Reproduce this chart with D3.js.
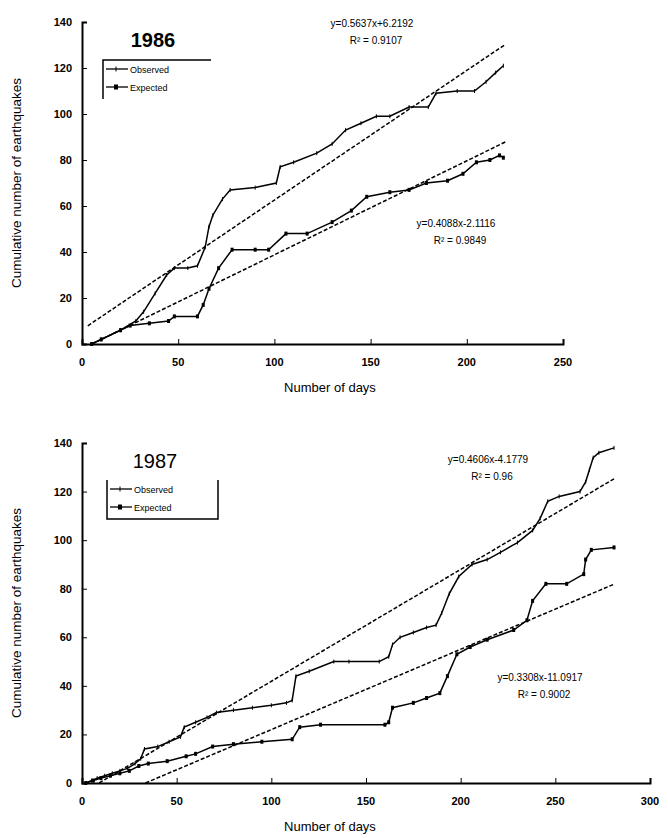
<!DOCTYPE html>
<html>
<head>
<meta charset="utf-8">
<script src="https://cdn.jsdelivr.net/npm/d3@7"></script>
<style>
body { margin: 0; background: #fff; }
text { font-family: Arial, "Liberation Sans", sans-serif; fill: #000; }
</style>
</head>
<body>
<div id="chart"></div>
<script>
// 1986 data (day, cumulative count)
var obs86Days = [5, 10, 20, 28, 32, 38, 44, 48, 55, 60, 64, 66, 68, 73, 77, 90, 101, 103, 110, 122, 130, 137, 145, 153, 160, 170, 180, 184, 195, 204, 210, 215, 219];
var obs86Vals = [0, 2, 6, 10, 14, 22, 30, 33, 33, 34, 42, 51, 56, 63, 67, 68, 70, 77, 79, 83, 87, 93, 96, 99, 99, 103, 103, 109, 110, 110, 114, 118, 121];
var exp86Days = [5, 10, 20, 25, 35, 45, 48, 60, 63, 66, 71, 78, 90, 97, 106, 117, 130, 140, 148, 160, 170, 179, 190, 198, 205, 212, 217, 219];
var exp86Vals = [0, 2, 6, 8, 9, 10, 12, 12, 17, 24, 33, 41, 41, 41, 48, 48, 53, 58, 64, 66, 67, 70, 71, 74, 79, 80, 82, 81];

// 1987 data
var obs87Days = [2, 5, 8, 12, 16, 20, 24, 28, 31, 33, 40, 46, 52, 54, 60, 66, 71, 80, 90, 100, 108, 111, 113, 120, 133, 141, 157, 162, 164, 168, 175, 182, 187, 190, 194, 199, 206, 214, 221, 230, 238, 242, 246, 252, 263, 266, 268, 270, 273, 281];
var obs87Vals = [0, 1, 2, 3, 4, 5, 6, 8, 10, 14, 15, 17, 19, 23, 25, 27, 29, 30, 31, 32, 33, 34, 44, 46, 50, 50, 50, 52, 57, 60, 62, 64, 65, 70, 78, 85, 90, 92, 95, 99, 104, 109, 116, 118, 120, 124, 129, 134, 136, 138];
var exp87Days = [2, 6, 10, 15, 20, 25, 30, 35, 45, 55, 60, 69, 80, 95, 111, 115, 126, 160, 162, 164, 175, 182, 189, 193, 198, 205, 214, 228, 235, 238, 245, 256, 265, 266, 269, 281];
var exp87Vals = [0, 1, 2, 3, 4, 5, 7, 8, 9, 11, 12, 15, 16, 17, 18, 23, 24, 24, 25, 31, 33, 35, 37, 44, 53, 56, 59, 63, 67, 75, 82, 82, 86, 92, 96, 97];

// regression lines
var slopes86 = [0.5637, 0.4088], intercepts86 = [6.2192, -2.1116];
var slopes87 = [0.4606, 0.3308], intercepts87 = [-4.1779, -11.0917];
var eq86 = [["y=0.5637x+6.2192", "R² = 0.9107"], ["y=0.4088x-2.1116", "R² = 0.9849"]];
var eq87 = [["y=0.4606x-4.1779", "R² = 0.96"], ["y=0.3308x-11.0917", "R² = 0.9002"]];

var yTicks = [0, 20, 40, 60, 80, 100, 120, 140];
var xTicks86 = [0, 50, 100, 150, 200, 250];
var xTicks87 = [0, 50, 100, 150, 200, 250, 300];
var legendLabels = ["Observed", "Expected"];

var svg = d3.select("#chart").append("svg")
	.attr("width", 668)
	.attr("height", 838);

function zip(ds, vs) {
	return ds.map((d, i) => ({x: d, y: vs[i]}));
}

function drawPanel(cfg) {
	var g = svg.append("g");
	var x = d3.scaleLinear().domain([0, cfg.xMax]).range([82, cfg.xEnd]);
	var y = d3.scaleLinear().domain([0, 140]).range([cfg.yBottom, cfg.yTop]);

	// axes
	g.append("g")
		.attr("transform", "translate(0," + cfg.yBottom + ")")
		.call(d3.axisTop(x).tickValues(cfg.xTicks).tickSize(5).tickFormat(""))
		.call(a => a.select(".domain").attr("stroke-width", 2));
	g.append("g")
		.attr("transform", "translate(82,0)")
		.call(d3.axisRight(y).tickValues(yTicks).tickSize(5).tickFormat(""))
		.call(a => a.select(".domain").attr("stroke-width", 2));

	g.selectAll(".xl").data(cfg.xTicks).enter().append("text")
		.attr("x", d => x(d)).attr("y", cfg.yBottom + 22)
		.attr("text-anchor", "middle")
		.style("font-size", "11px").style("font-weight", "bold")
		.text(d => d);
	g.selectAll(".yl").data(yTicks).enter().append("text")
		.attr("x", 72).attr("y", d => y(d) + 4)
		.attr("text-anchor", "end")
		.style("font-size", "11px").style("font-weight", "bold")
		.text(d => d);

	g.append("text")
		.attr("x", 330).attr("y", cfg.yBottom + 48)
		.attr("text-anchor", "middle").style("font-size", "13px")
		.text("Number of days");
	g.append("text")
		.attr("transform", "translate(21," + ((cfg.yBottom + cfg.yTop) / 2) + ") rotate(-90)")
		.attr("text-anchor", "middle").style("font-size", "13.5px")
		.text("Cumulative number of earthquakes");

	// trend lines
	cfg.slopes.forEach((s, i) => {
		var b = cfg.intercepts[i];
		var x0 = Math.max(cfg.trendStart, -b / s);
		g.append("line")
			.attr("x1", x(x0)).attr("y1", y(s * x0 + b))
			.attr("x2", x(cfg.trendEnd)).attr("y2", y(s * cfg.trendEnd + b))
			.attr("stroke", "#000").attr("stroke-width", 1.5)
			.attr("stroke-dasharray", "4,2");
	});

	// step series
	var line = d3.line().x(d => x(d.x)).y(d => y(d.y));
	cfg.series.forEach((s, k) => {
		g.append("path").datum(s)
			.attr("d", line)
			.attr("fill", "none").attr("stroke", "#000").attr("stroke-width", 1.5);
		g.selectAll(".m" + k).data(s).enter().append("rect")
			.attr("x", d => x(d.x) - (k ? 1.5 : 0.5))
			.attr("y", d => y(d.y) - 2)
			.attr("width", k ? 3 : 1).attr("height", 4)
			.attr("fill", "#000");
	});

	// equations
	cfg.eqs.forEach((e, i) => {
		g.append("text").attr("x", cfg.eqPos[i][0]).attr("y", cfg.eqPos[i][1])
			.attr("text-anchor", "middle").style("font-size", "10px").text(e[0]);
		g.append("text").attr("x", cfg.eqPos[i][0] + 4).attr("y", cfg.eqPos[i][1] + 17)
			.attr("text-anchor", "middle").style("font-size", "10px").text(e[1]);
	});

	// year title
	g.append("text").attr("x", cfg.yearPos[0]).attr("y", cfg.yearPos[1])
		.attr("text-anchor", "middle")
		.style("font-size", "20px").style("font-weight", cfg.yearBold ? "bold" : "normal")
		.text(cfg.year);

	// legend
	var L = cfg.legend;
	g.append("path").attr("d", L.frame)
		.attr("fill", "none").attr("stroke", "#000").attr("stroke-width", 1.5);
	legendLabels.forEach((lab, i) => {
		var ly = L.y + i * 18;
		g.append("line").attr("x1", L.x).attr("x2", L.x + 22)
			.attr("y1", ly).attr("y2", ly).attr("stroke", "#000").attr("stroke-width", 1.3);
		g.append("rect").attr("x", L.x + 10 - (i ? 2 : 0.5)).attr("y", ly - 2.5)
			.attr("width", i ? 4 : 1).attr("height", 5).attr("fill", "#000");
		g.append("text").attr("x", L.x + 24).attr("y", ly + 3.5)
			.style("font-size", "9px").text(lab);
	});
}

drawPanel({
	xMax: 250, xEnd: 563, yBottom: 344, yTop: 22, xTicks: xTicks86,
	slopes: slopes86, intercepts: intercepts86, trendStart: 3, trendEnd: 220,
	series: [zip(obs86Days, obs86Vals), zip(exp86Days, exp86Vals)],
	eqs: eq86, eqPos: [[372, 27], [456, 227]],
	year: "1986", yearPos: [153, 47], yearBold: true,
	legend: {x: 106, y: 69, frame: "M211,60H103V99"}
});

drawPanel({
	xMax: 300, xEnd: 650, yBottom: 783, yTop: 443, xTicks: xTicks87,
	slopes: slopes87, intercepts: intercepts87, trendStart: 5, trendEnd: 281,
	series: [zip(obs87Days, obs87Vals), zip(exp87Days, exp87Vals)],
	eqs: eq87, eqPos: [[488, 463], [540, 681]],
	year: "1987", yearPos: [155, 468], yearBold: false,
	legend: {x: 110, y: 489, frame: "M107,480V519H218V480"}
});
</script>
</body>
</html>
